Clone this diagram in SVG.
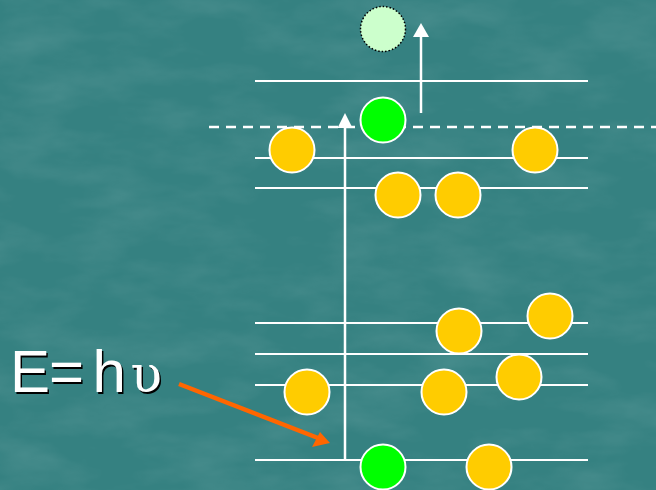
<svg xmlns="http://www.w3.org/2000/svg" width="656" height="490" viewBox="0 0 656 490">
<defs>
<style>
.lvl{stroke:#fff;stroke-width:2;fill:none}
.dash{stroke:#fff;stroke-width:2.5;stroke-dasharray:10 7;fill:none}
.e{fill:#ffcc00;stroke:#fff;stroke-width:2}
.g{fill:#00ff00;stroke:#fff;stroke-width:2}
.ph{stroke:#fff;stroke-width:2.5;fill:none}
.lbl{font-family:"Liberation Sans",Arial,sans-serif;font-size:60px}
.ups{font-family:"DejaVu Serif","Liberation Serif",serif;font-size:52px}
</style>
<filter id="tex" x="0" y="0" width="100%" height="100%">
<feTurbulence type="fractalNoise" baseFrequency="0.012 0.03" numOctaves="4" seed="3" result="n"/>
<feColorMatrix in="n" type="matrix" values="0 0 0 0 1  0 0 0 0 1  0 0 0 0 1  0 0 0 1.4 -0.55" result="a"/>
<feComposite in="a" in2="SourceGraphic" operator="in"/>
</filter>
</defs>
<rect width="656" height="490" fill="#358181"/>
<rect width="656" height="490" fill="#fff" opacity="0.12" filter="url(#tex)"/>

<g id="levels">
<line class="lvl" x1="255" y1="81" x2="588" y2="81"/>
<line class="dash" x1="209" y1="127" x2="656" y2="127"/>
<line class="lvl" x1="255" y1="158" x2="588" y2="158"/>
<line class="lvl" x1="255" y1="188" x2="588" y2="188"/>
<line class="lvl" x1="255" y1="323" x2="588" y2="323"/>
<line class="lvl" x1="255" y1="354" x2="588" y2="354"/>
<line class="lvl" x1="255" y1="385" x2="588" y2="385"/>
<line class="lvl" x1="255" y1="460" x2="588" y2="460"/>
</g>

<g id="connectors">
<line class="ph" x1="345" y1="460" x2="345" y2="126"/>
<polygon points="345,113 337.5,128 352.5,128" fill="#fff"/>
<line class="ph" x1="421" y1="113" x2="421" y2="35"/>
<polygon points="421,23 413,37 429,37" fill="#fff"/>
<line x1="179" y1="384" x2="318" y2="438" stroke="#ff6600" stroke-width="4.5"/>
<polygon points="330,443 312,447 320,432" fill="#ff6600"/>
</g>

<g id="ejected"><circle cx="383" cy="29" r="22.5" fill="#ccffcc" stroke="#000" stroke-width="1.5" stroke-dasharray="1.5 2"/></g>
<g id="excited"><circle class="g" cx="383" cy="120" r="22.5"/></g>
<g id="e1"><circle class="e" cx="292" cy="150" r="22.5"/></g>
<g id="e2"><circle class="e" cx="535" cy="150" r="22.5"/></g>
<g id="e3"><circle class="e" cx="398" cy="195" r="22.5"/></g>
<g id="e4"><circle class="e" cx="458" cy="195" r="22.5"/></g>
<g id="e5"><circle class="e" cx="459" cy="331" r="22.5"/></g>
<g id="e6"><circle class="e" cx="550" cy="316" r="22.5"/></g>
<g id="e7"><circle class="e" cx="307" cy="392" r="22.5"/></g>
<g id="e8"><circle class="e" cx="444" cy="392" r="22.5"/></g>
<g id="e9"><circle class="e" cx="519" cy="377" r="22.5"/></g>
<g id="hole"><circle class="g" cx="383" cy="467" r="22.5"/></g>
<g id="e10"><circle class="e" cx="489" cy="467" r="22.5"/></g>

<g id="label">
<text class="lbl" fill="#000" y="393.5"><tspan x="11.5">E</tspan><tspan x="50.5">=</tspan><tspan x="94">h</tspan><tspan class="ups" x="132">υ</tspan></text>
<text class="lbl" fill="#fff" y="392"><tspan x="10">E</tspan><tspan x="49">=</tspan><tspan x="92.5">h</tspan><tspan class="ups" x="130.5">υ</tspan></text>
</g>
</svg>
